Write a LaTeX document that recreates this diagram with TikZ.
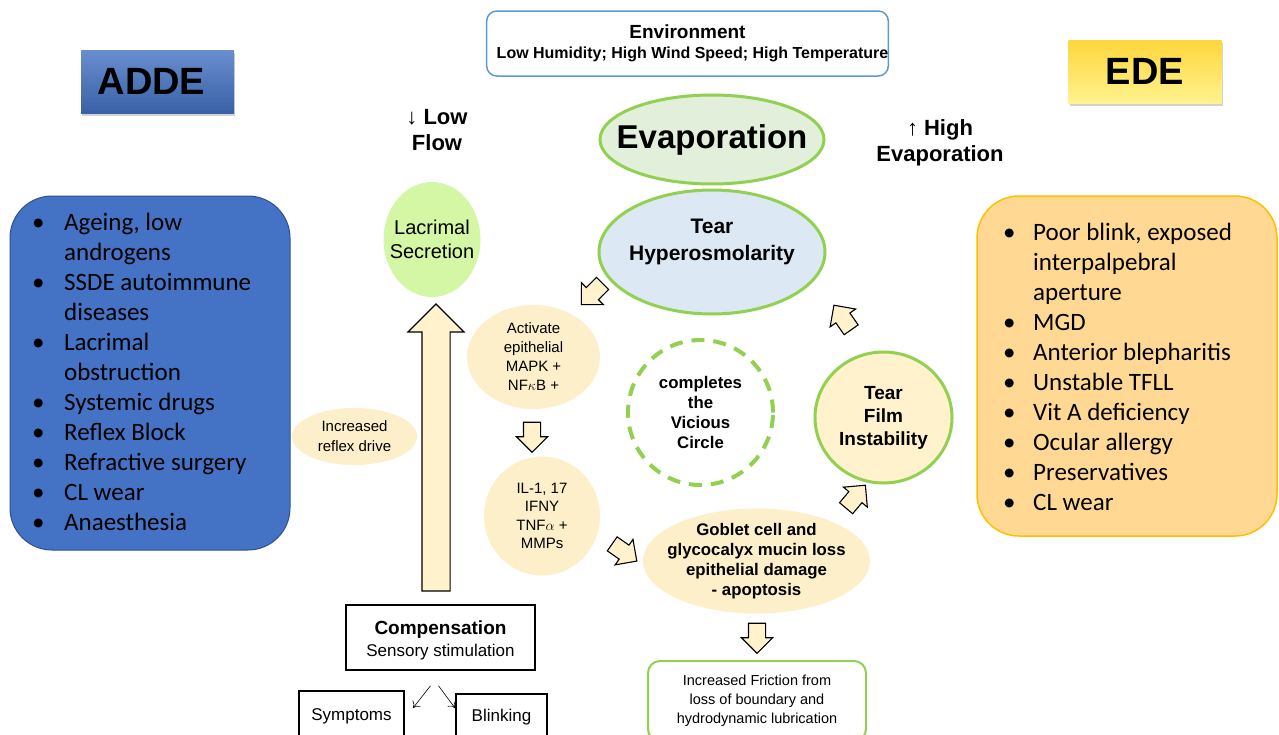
\documentclass[tikz,border=0pt]{standalone}
\usepackage{fontspec}
\setmainfont{Liberation Sans}
\newfontfamily\calibri{Carlito}
\usetikzlibrary{shapes.geometric,shapes.arrows,shadows,positioning,arrows.meta}

\definecolor{vgreen}{HTML}{92D050}
\definecolor{evapfill}{HTML}{E2EFDA}
\definecolor{hyperfill}{HTML}{DDE8F5}
\definecolor{lacfill}{HTML}{D3F7A4}
\definecolor{cream}{HTML}{FDEFC9}
\definecolor{arrfill}{HTML}{FFF2CC}
\definecolor{addeblue}{HTML}{4472C4}
\definecolor{addeline}{HTML}{2F528F}
\definecolor{edeorange}{HTML}{FFD993}
\definecolor{edeline}{HTML}{FFC000}
\definecolor{envline}{HTML}{5B9BD5}
\definecolor{edetop}{HTML}{FFD63C}
\definecolor{edebot}{HTML}{FFF38E}

\tikzset{
  blob/.style={ellipse, inner sep=0pt},
  ringblob/.style={blob, draw=vgreen, line width=3pt},
  creamblob/.style={blob, fill=cream},
  blobtext/.style={align=center, inner sep=0pt},
  titlebox/.style={minimum width=153pt, minimum height=63pt, inner sep=0pt,
    font=\fontsize{38}{40}\selectfont\bfseries,
    drop shadow={shadow xshift=1pt, shadow yshift=-3pt, opacity=0.35}},
  plainbox/.style={draw=black, line width=1.5pt, inner sep=0pt, align=center},
  blockarr/.style={single arrow, draw=black, fill=arrfill, line width=1.1pt,
    inner xsep=0pt, inner ysep=8pt, minimum height=30pt,
    single arrow head extend=7pt},
  thinarr/.style={-{To[length=6pt, width=10pt]}, line width=0.6pt}
}

\begin{document}
\begin{tikzpicture}[x=1pt, y=-1pt]
  \path[use as bounding box, clip] (0,0) rectangle (1279,734);
  \fill[white] (0,0) rectangle (1279,734);

  % titles
  \node[titlebox, top color=addeblue!80!white, bottom color=addeblue!85!black] (adde) at (157.5,81.5) {ADDE\kern12pt};
  \node[titlebox, top color=edetop, bottom color=edebot] (ede) at (1145,71.5) {EDE};
  \node[draw=envline, line width=1.5pt, rounded corners=10pt, minimum width=401pt,
        minimum height=65pt, inner sep=0pt, align=center,
        font=\fontsize{16}{20}\selectfont\bfseries] (env) at (687.5,43.5)
    {{\fontsize{19}{20}\selectfont Environment}\\
     \hspace{10pt}Low Humidity; High Wind Speed; High Temperature};
  \node[align=center, font=\fontsize{22}{26}\selectfont\bfseries] (lowflow) at (437,130) {↓ Low\\Flow};
  \node[align=center, font=\fontsize{22}{26}\selectfont\bfseries] (highevap) at (940,143) {↑ High\\Evaporation};

  % cause lists
  \node[draw=addeline, line width=1pt, fill=addeblue, rounded corners=42pt,
        minimum width=280pt, minimum height=354pt] (addebox) at (150,373) {};
  \node[anchor=base west, inner sep=0pt, font=\calibri\fontsize{25}{30}\selectfont] (addelist) at (32,230)
    {\begin{tabular}[t]{@{}p{32pt}@{}l@{}}
      • & Ageing, low\\
        & androgens\\
      • & SSDE autoimmune\\
        & diseases\\
      • & Lacrimal\\
        & obstruction\\
      • & Systemic drugs\\
      • & Reflex Block\\
      • & Refractive surgery\\
      • & CL wear\\
      • & Anaesthesia
    \end{tabular}};
  \node[draw=edeline, line width=1.5pt, fill=edeorange, rounded corners=42pt,
        minimum width=300pt, minimum height=340pt] (edebox) at (1127,366) {};
  \node[anchor=base west, inner sep=0pt, font=\calibri\fontsize{25}{30}\selectfont] (edelist) at (1003,240)
    {\begin{tabular}[t]{@{}p{30pt}@{}l@{}}
      • & Poor blink, exposed\\
        & interpalpebral\\
        & aperture\\
      • & MGD\\
      • & Anterior blepharitis\\
      • & Unstable TFLL\\
      • & Vit A deficiency\\
      • & Ocular allergy\\
      • & Preservatives\\
      • & CL wear
    \end{tabular}};

  % vicious circle
  \node[ringblob, fill=evapfill, minimum width=224pt, minimum height=89pt,
        label={[blobtext, font=\fontsize{33}{36}\selectfont\bfseries]center:Evaporation}] (evap) at (712,139.5) {};
  \node[ringblob, fill=hyperfill, minimum width=226pt, minimum height=124pt] (hyper) at (712,252) {};
  \node[blobtext, font=\fontsize{21}{27}\selectfont\bfseries] (hypertext) at ([yshift=10pt]hyper.center) {Tear\\Hyperosmolarity};
  \node[blob, fill=lacfill, minimum width=97pt, minimum height=115pt,
        label={[blobtext, font=\fontsize{20}{24}\selectfont]center:{Lacrimal\\Secretion}}] (lacrimal) at (432,239.5) {};
  \node[ringblob, fill=arrfill, minimum width=137pt, minimum height=131pt,
        label={[blobtext, font=\fontsize{19}{23}\selectfont\bfseries]center:{Tear\\Film\\Instability}}] (tearfilm) at (883.5,417.5) {};
  \node[circle, draw=vgreen, line width=4pt, dash pattern=on 13pt off 9pt, minimum size=145pt,
        inner sep=0pt, align=center, font=\fontsize{16.8}{20}\selectfont\bfseries] (vicious) at (700.5,412.5)
    {completes\\the\\Vicious\\Circle};
  \node[creamblob, minimum width=133pt, minimum height=104pt,
        label={[blobtext, font=\fontsize{15}{19}\selectfont]center:{Activate\\epithelial\\MAPK +\\NF$\kappa$B +}}] (activate) at (533.5,357) {};
  \node[creamblob, minimum width=116pt, minimum height=119pt,
        label={[blobtext, font=\fontsize{15}{18.5}\selectfont]center:{IL-1, 17\\IFNY\\TNF$\alpha$ +\\MMPs}}] (cytok) at (542,516) {};
  \node[creamblob, minimum width=125pt, minimum height=57pt,
        label={[blobtext, font=\fontsize{15}{20}\selectfont]center:{Increased\\reflex drive}}] (reflex) at (354.5,436.5) {};
  \node[creamblob, minimum width=227pt, minimum height=105pt,
        label={[blobtext, font=\fontsize{16.8}{20}\selectfont\bfseries]center:{Goblet cell and\\glycocalyx mucin loss\\epithelial damage\\- apoptosis}}] (goblet) at (756.5,561) {};

  % block arrows
  \node[blockarr, inner ysep=13.5pt, single arrow head extend=14pt, minimum height=287pt,
        rotate=90] (bigarrow) at (436,454.5) {};
  \node[blockarr, rotate=225] (arrhyper) at (595,291) {};
  \node[blockarr, rotate=-90] (arrcytok) at (532,433) {};
  \node[blockarr, rotate=-35] (arrgoblet) at (621,550) {};
  \node[blockarr, rotate=50] (arrfilm) at (853,500) {};
  \node[blockarr, rotate=125] (arrhyper2) at (845,321) {};
  \node[blockarr, rotate=-90] (arrfric) at (757,634) {};

  % bottom boxes
  \node[plainbox, minimum width=189pt, minimum height=65pt] (comp) at (440.5,637.5) {};
  \node[blobtext, font=\fontsize{17}{22}\selectfont] (comptext) at ([yshift=-3pt]comp.center)
    {{\fontsize{19}{22}\selectfont\bfseries Compensation}\\
     Sensory stimulation};
  \node[plainbox, anchor=north, minimum width=105pt, minimum height=52pt,
        font=\fontsize{17}{20}\selectfont] (symp) at (351.5,690) {Symptoms};
  \node[plainbox, anchor=north, minimum width=91pt, minimum height=46pt,
        font=\fontsize{17}{20}\selectfont] (blink) at (501.5,693) {Blinking};
  \node[draw=vgreen, line width=2pt, rounded corners=12pt, anchor=north, minimum width=218pt,
        minimum height=80pt, inner sep=0pt, align=center, font=\fontsize{14.5}{19}\selectfont] (friction) at (757,660)
    {Increased Friction from\\loss of boundary and\\hydrodynamic lubrication};

  \coordinate (sympin) at (413,708);
  \coordinate (blinkin) at (455,708);
  \draw[thinarr] ([xshift=-10pt, yshift=-15pt]comp.south) -- (sympin);
  \draw[thinarr] ([xshift=-2pt, yshift=-15pt]comp.south) -- (blinkin);
\end{tikzpicture}
\end{document}
